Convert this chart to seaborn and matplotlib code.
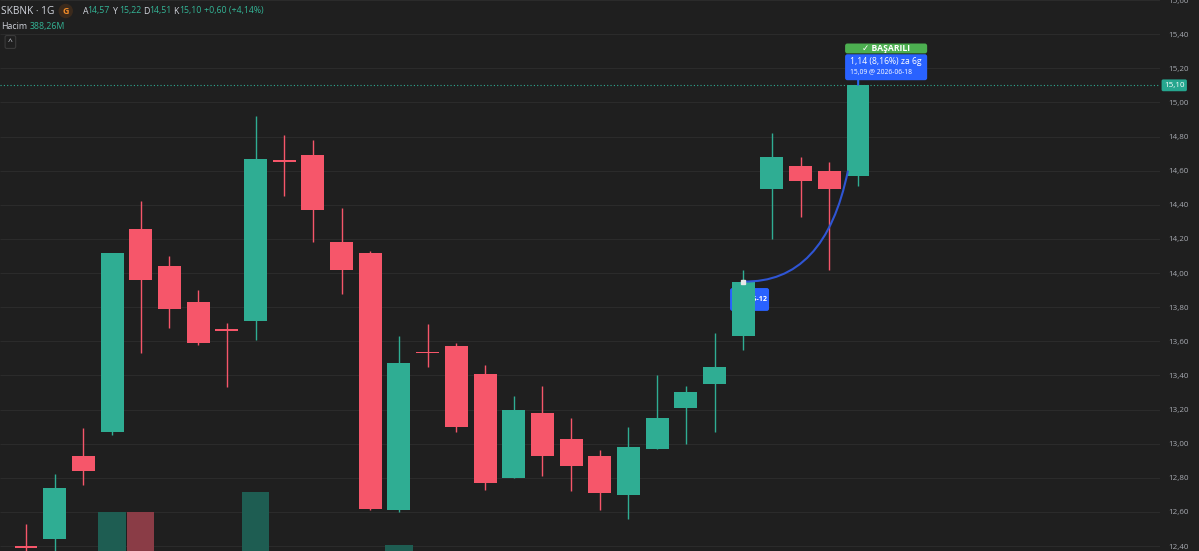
import matplotlib
matplotlib.use("Agg")
import numpy as np
import pandas as pd
import matplotlib.pyplot as plt
import matplotlib.transforms as mtransforms
from matplotlib.patches import FancyBboxPatch, PathPatch
from matplotlib.path import Path
import seaborn as sns

# ---------------- data ----------------
opens  = [12.40, 12.44, 12.93, 13.07, 14.26, 14.04, 13.83, 13.67, 13.72, 14.66,
          14.69, 14.18, 14.12, 12.61, 13.54, 13.57, 13.41, 12.80, 13.18, 13.03,
          12.93, 12.70, 12.97, 13.21, 13.35, 13.63, 14.49, 14.63, 14.60, 14.57]
highs  = [12.53, 12.82, 13.09, 14.12, 14.42, 14.10, 13.90, 13.71, 14.92, 14.81,
          14.78, 14.38, 14.13, 13.63, 13.70, 13.59, 13.46, 13.28, 13.34, 13.15,
          12.96, 13.10, 13.40, 13.34, 13.65, 14.02, 14.82, 14.68, 14.65, 15.22]
lows   = [12.30, 12.35, 12.76, 13.05, 13.53, 13.68, 13.58, 13.33, 13.61, 14.45,
          14.18, 13.88, 12.61, 12.60, 13.45, 13.07, 12.73, 12.80, 12.81, 12.72,
          12.61, 12.56, 12.97, 13.00, 13.07, 13.55, 14.20, 14.33, 14.02, 14.51]
closes = [12.39, 12.74, 12.84, 14.12, 13.96, 13.79, 13.59, 13.66, 14.67, 14.65,
          14.37, 14.02, 12.62, 13.47, 13.53, 13.10, 12.77, 13.20, 12.93, 12.87,
          12.71, 12.98, 13.15, 13.30, 13.45, 13.95, 14.68, 14.54, 14.49, 15.10]
volumes_m = [180, 240, 210, 790, 790, 230, 190, 170, 990, 260,
             280, 210, 350, 460, 200, 230, 260, 240, 190, 170,
             180, 210, 200, 150, 190, 330, 360, 210, 250, 388.26]
price_ticks = [12.40, 12.60, 12.80, 13.00, 13.20, 13.40, 13.60, 13.80, 14.00,
               14.20, 14.40, 14.60, 14.80, 15.00, 15.20, 15.40, 15.60]
last_price = 15.10

# ---------------- style ----------------
BG = "#1f1f1f"
GRID = "#2b2b2b"
UP = "#2fad93"
DOWN = "#f6566a"
UP_VOL = "#1e5d52"
DOWN_VOL = "#8a3c46"
TXT = "#d1d4dc"
AX_TXT = "#a6a9b0"

sns.set_theme(style="dark")
plt.rcParams["font.family"] = ["Open Sans", "DejaVu Sans"]

W, H = 1199, 551
fig = plt.figure(figsize=(W / 100, H / 100), dpi=100, facecolor=BG)
PANE_W = 1160
ax = fig.add_axes([0, 0, PANE_W / W, 1])
axv = ax.twinx()
ax.set_zorder(axv.get_zorder() + 1)
ax.patch.set_visible(False)
axv.set_facecolor(BG)

n = len(opens)
idx = np.arange(n)
o = np.array(opens); c = np.array(closes)
hi = np.array(highs); lo = np.array(lows)
up = c >= o

XL = (-26 / 28.69, (PANE_W - 26) / 28.69)
YL = (12.371, 15.597)

# volume (seaborn)
df = pd.DataFrame({"idx": idx, "vol": volumes_m,
                   "dir": np.where(up, "up", "down")})
sns.barplot(data=df, x="idx", y="vol", hue="dir", dodge=False,
            palette={"up": UP_VOL, "down": DOWN_VOL}, native_scale=True,
            width=0.95, errorbar=None, legend=False, saturation=1,
            linewidth=0, ax=axv, zorder=2)
axv.set_ylim(400, 400 + 551 * 10)
axv.set_yticks([]); axv.set_xlabel(""); axv.set_ylabel("")
for s in axv.spines.values():
    s.set_visible(False)

# candles
colors = [UP if u else DOWN for u in up]
ax.vlines(idx, lo, hi, colors=colors, linewidth=1.0, zorder=3)
body_h = np.maximum(np.abs(c - o), 0.008)
ax.bar(idx, body_h, bottom=np.minimum(o, c), width=0.8, color=colors,
       linewidth=0, zorder=4)

ax.set_xlim(*XL)
axv.set_xlim(*XL)
ax.set_ylim(*YL)

ax.set_xticks(np.arange(0, 40, 2))
ax.set_xticklabels([])
ax.set_yticks(price_ticks)
ax.set_yticklabels([f"{v:.2f}".replace(".", ",") for v in price_ticks])
ax.yaxis.tick_right()
ax.tick_params(axis="y", length=0, pad=6, labelsize=5.8, labelcolor=AX_TXT)
ax.tick_params(axis="x", length=0)
ax.grid(False)
for s in ax.spines.values():
    s.set_visible(False)

# grid drawn on the lower (volume) axes so it sits beneath the volume bars
axv.set_xticks(np.arange(0, 40, 2)); axv.set_xticklabels([])
axv.tick_params(axis="x", length=0)
axv.xaxis.grid(True, color=GRID, linewidth=0.8)
axv.yaxis.grid(False)
axv.set_axisbelow(True)
gtr = mtransforms.blended_transform_factory(axv.transAxes, ax.transData)
axv.hlines(price_ticks, 0, 1, transform=gtr, colors=GRID, linewidth=0.8,
           zorder=0.5)

# last price dotted line + badge
ax.axhline(last_price, color=UP, linewidth=0.8, linestyle=(0, (1, 2)), zorder=2)
bt = mtransforms.blended_transform_factory(ax.transAxes, ax.transData)
off = mtransforms.offset_copy(bt, fig=fig, x=4, y=0, units="dots")
ax.text(1.0, last_price, f"{last_price:.2f}".replace(".", ","), transform=off,
        ha="left", va="center", fontsize=5.8, color="white", clip_on=False,
        bbox=dict(boxstyle="round,pad=0.3,rounding_size=0.2", fc="#26a68f",
                  ec="none"), zorder=10)

# --- drawing: curved line from entry to target ---
asp = (1 / 170.8) / (1 / 28.69)
start = (25, closes[25])
end = (28.65, 14.60)
ctrl = (27.85, 13.94)
path = Path([start, ctrl, end], [Path.MOVETO, Path.CURVE3, Path.CURVE3])
ax.add_patch(PathPatch(path, fc="none", ec="#2f55d4", lw=1.5, zorder=6))
ax.plot([start[0]], [start[1]], marker="s", ms=2.5, color="#e8e8e8", zorder=7)

# entry label (mostly hidden behind candle)
ax.add_patch(FancyBboxPatch((24.54, 13.778), 1.36, 0.134,
                            boxstyle="round,pad=0,rounding_size=0.08",
                            mutation_aspect=asp, fc="#2962ff", ec="none",
                            zorder=2.5))
ax.text(25.87, 13.845, "06-12", ha="right", va="center", fontsize=5.2,
        color="white", fontweight="bold", zorder=2.6)

# result box
ax.add_patch(FancyBboxPatch((28.55, 15.287), 2.86, 0.058,
                            boxstyle="round,pad=0,rounding_size=0.08",
                            mutation_aspect=asp, fc="#4caf50", ec="none",
                            zorder=8))
ax.add_patch(FancyBboxPatch((28.55, 15.13), 2.86, 0.152,
                            boxstyle="round,pad=0,rounding_size=0.08",
                            mutation_aspect=asp, fc="#2962ff", ec="none",
                            zorder=8))
ax.text(29.98, 15.316, "✓ BAŞARILI", ha="center", va="center", fontsize=6.2,
        color="white", fontweight="bold", zorder=9,
        family=["Open Sans", "DejaVu Sans"])
ax.text(28.72, 15.237, "1,14 (8,16%) za 6g", ha="left", va="center",
        fontsize=6.2, color="white", zorder=9)
ax.text(28.72, 15.175, "15,09 @ 2026-06-18", ha="left", va="center",
        fontsize=4.9, color="white", zorder=9)
ax.plot([29, 29], [15.13, 15.10], color="#2962ff", lw=1.2, zorder=8)


# ---------------- header ----------------
def ftxt(x, y, s, **kw):
    fig.text(x / W, 1 - y / H, s, va="center", ha="left", **kw)


ftxt(1, 11, "SKBNK · 1G", fontsize=7.3, color=TXT)
ftxt(62.5, 11, "G", fontsize=6.5, color="#f28c28", fontweight="bold",
     bbox=dict(boxstyle="circle,pad=0.3", fc="#3b2a1c", ec="none"))
GV = "#33b596"
parts = [(83, "A", TXT), (87, "14,57", GV), (113, "Y", TXT), (119, "15,22", GV),
         (143, "D", TXT), (149, "14,51", GV), (173, "K", TXT), (179, "15,10", GV),
         (204, "+0,60 (+4,14%)", GV)]
for x, s, col in parts:
    ftxt(x, 11, s, fontsize=6.3, color=col)
ftxt(1, 26.5, "Hacim", fontsize=6.3, color=TXT)
ftxt(30, 26.5, "388,26M", fontsize=6.3, color=GV)
ftxt(8, 42, "^", fontsize=6, color=TXT,
     bbox=dict(boxstyle="round,pad=0.35,rounding_size=0.2", fc=BG,
               ec="#3a3a3a", lw=0.8))

fig.savefig("out.png", dpi=100, facecolor=BG)
